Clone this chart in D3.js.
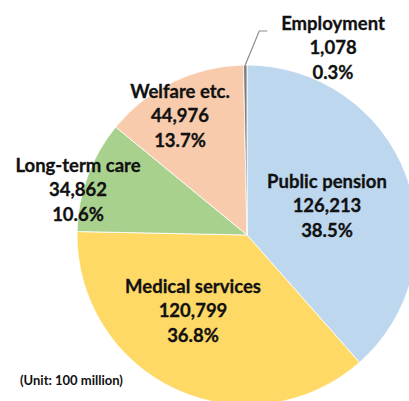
<!DOCTYPE html>
<html>
<head>
<meta charset="utf-8">
<script src="https://cdn.jsdelivr.net/npm/d3@7"></script>
<style>
  html, body { margin: 0; padding: 0; background: #fff; }
  svg { display: block; }
  text { font-family: Lato, "Open Sans", sans-serif; font-weight: bold; fill: #111; }
</style>
</head>
<body>
<svg id="chart" width="409" height="401"></svg>
<script>
// Social security benefit breakdown (unit: 100 million)
const categories = ["Public pension", "Medical services", "Long-term care", "Welfare etc.", "Employment"];
const amounts = [126213, 120799, 34862, 44976, 1078];
const shares = ["38.5%", "36.8%", "10.6%", "13.7%", "0.3%"];
const colors = ["#BDD7EE", "#FFD966", "#A9D18E", "#F8CBAD", "#7F7F7F"];

const svg = d3.select("#chart");
const cx = 247, cy = 235, r = 170;

const pie = d3.pie().sort(null).value(d => d.value);
const arcs = pie(categories.map((c, i) => ({ name: c, value: amounts[i], share: shares[i], color: colors[i] })));

const arc = d3.arc().innerRadius(0).outerRadius(r);

const g = svg.append("g").attr("transform", `translate(${cx},${cy})`);
g.selectAll("path")
  .data(arcs)
  .join("path")
  .attr("d", arc)
  .attr("fill", d => d.data.color)
  .attr("stroke", "#fff")
  .attr("stroke-width", 0.8);

// label positions (offsets from pie centre)
const labelPos = {
  "Public pension": [80, -52],
  "Medical services": [-54, 53],
  "Long-term care": [-169, -68],
  "Welfare etc.": [-67, -142],
  "Employment": [86, -210]
};

const fmt = d3.format(",");
arcs.forEach(d => {
  const [lx, ly] = labelPos[d.data.name];
  const t = g.append("text")
    .attr("text-anchor", "middle")
    .attr("font-size", 18.5)
    .attr("stroke", "#111")
    .attr("stroke-width", 0.3);
  [d.data.name, fmt(d.data.value), d.data.share].forEach((s, i) => {
    t.append("tspan")
      .attr("x", lx)
      .attr("y", ly + i * 24.5)
      .attr("dominant-baseline", "middle")
      .text(s);
  });
});

// leader line for the thin Employment slice
const emp = arcs[4];
const mid = (emp.startAngle + emp.endAngle) / 2;
const px = r * Math.sin(mid), py = -r * Math.cos(mid);
g.append("polyline")
  .attr("points", `${px},${py} ${px + 14},${py - 34} ${px + 22},${py - 34}`)
  .attr("fill", "none")
  .attr("stroke", "#8c8c8c")
  .attr("stroke-width", 1.2);

svg.append("text")
  .attr("x", 20)
  .attr("y", 382)
  .attr("dominant-baseline", "middle")
  .attr("font-size", 13)
  .text("(Unit: 100 million)");
</script>
</body>
</html>
